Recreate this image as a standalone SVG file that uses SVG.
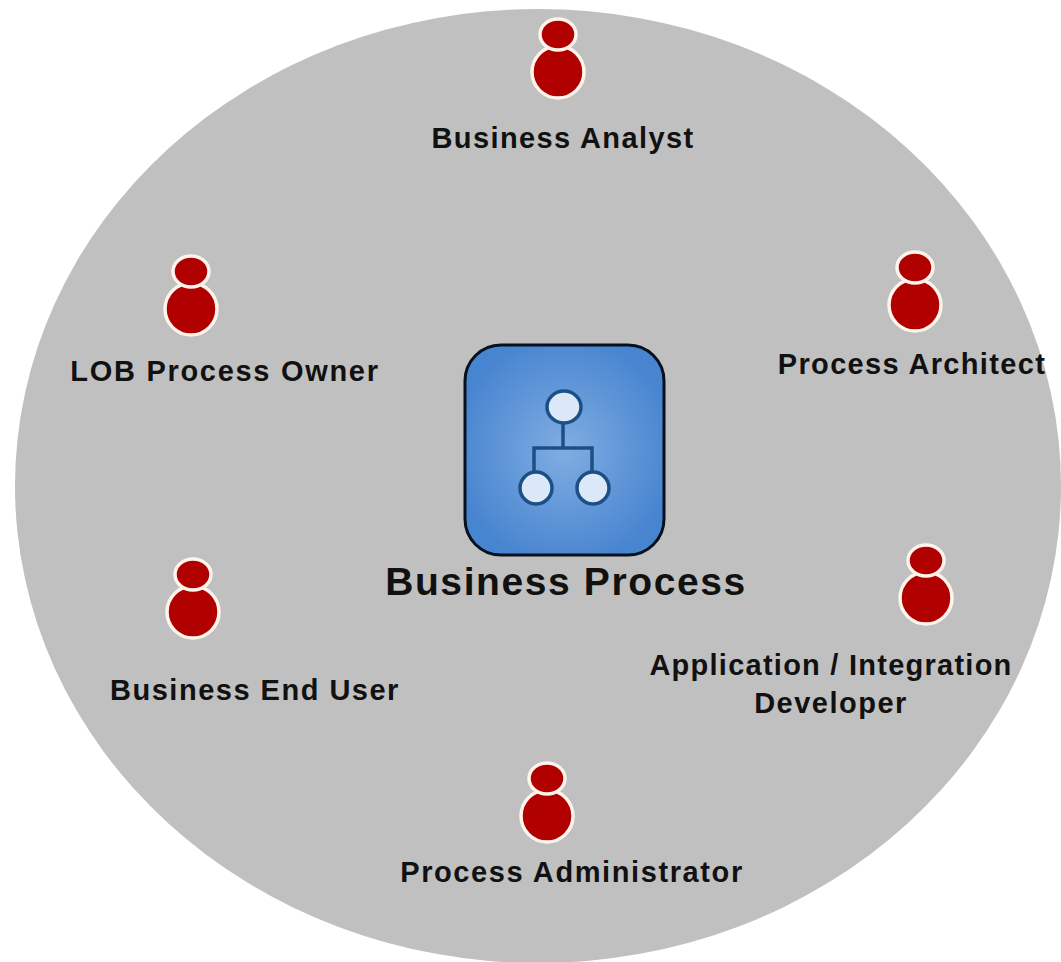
<svg xmlns="http://www.w3.org/2000/svg" width="1061" height="962" viewBox="0 0 1061 962">
<style>
.t{font-family:"Liberation Sans",Arial,sans-serif;font-size:29px;font-weight:bold;fill:#111;text-anchor:middle;letter-spacing:1.5px}
.p{fill:#b00000;stroke:#fff4ec;stroke-width:3.5px}
</style>
<defs>
<radialGradient id="g" cx="50%" cy="50%" r="55%"><stop offset="0" stop-color="#80ade2"/><stop offset="1" stop-color="#4885d0"/></radialGradient>
<g id="person"><ellipse class="p" cx="0" cy="53" rx="26" ry="26"/><ellipse class="p" cx="0" cy="15.500" rx="18" ry="15.500"/></g>
</defs>
<rect width="1061" height="962" fill="#fff"/>
<ellipse cx="538" cy="486" rx="523" ry="477" fill="#c0c0c0"/>
<g id="connectors"></g>
<g id="center"><rect x="465" y="345" width="199" height="210" rx="36" fill="url(#g)" stroke="#06101f" stroke-width="3"/>
<path d="M563 420V448M534 478V448H592V478" fill="none" stroke="#1d4f87" stroke-width="3.500"/>
<g fill="#dbe8f8" stroke="#1d4f87" stroke-width="3.500"><ellipse cx="564" cy="407" rx="17" ry="16"/><circle cx="536" cy="488" r="16"/><circle cx="593" cy="488" r="16"/></g>
<text class="t" x="566" y="595" style="font-size:39px;letter-spacing:1.600px">Business Process</text></g>
<g id="analyst"><use href="#person" x="558" y="19"/><text class="t" x="563" y="148" style="letter-spacing:1.400px">Business Analyst</text></g>
<g id="owner"><use href="#person" x="191" y="256"/><text class="t" x="225" y="381" style="letter-spacing:1.700px">LOB Process Owner</text></g>
<g id="architect"><use href="#person" x="915" y="252"/><text class="t" x="912" y="374" style="letter-spacing:1.350px">Process Architect</text></g>
<g id="user"><use href="#person" x="193" y="559"/><text class="t" x="255" y="700">Business End User</text></g>
<g id="developer"><use href="#person" x="926" y="545"/><text class="t" x="831" y="675" style="letter-spacing:1.250px">Application / Integration</text><text class="t" x="831" y="713">Developer</text></g>
<g id="administrator"><use href="#person" x="547" y="763"/><text class="t" x="572" y="882" style="letter-spacing:1.600px">Process Administrator</text></g>
</svg>
